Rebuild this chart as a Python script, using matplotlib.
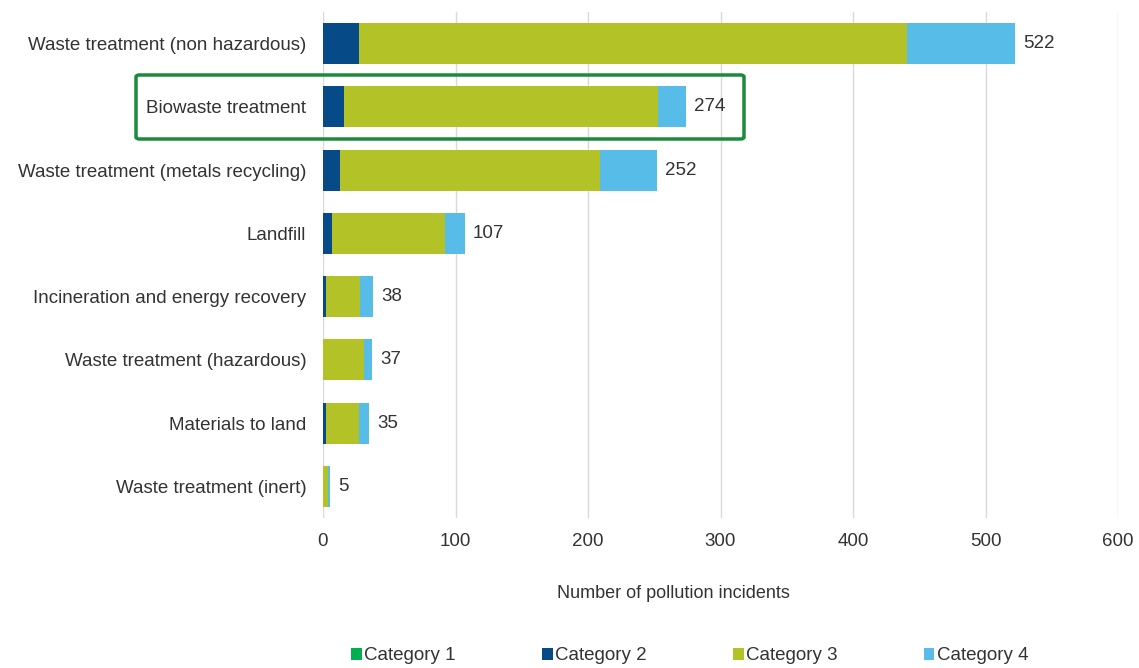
import matplotlib.pyplot as plt
from matplotlib.patches import FancyBboxPatch
import numpy as np

plt.rcParams['font.family'] = ['Liberation Sans', 'DejaVu Sans']

# dados
setores = ["Waste treatment (non hazardous)", "Biowaste treatment",
           "Waste treatment (metals recycling)", "Landfill",
           "Incineration and energy recovery", "Waste treatment (hazardous)",
           "Materials to land", "Waste treatment (inert)"]
cat1 = [0, 0, 0, 0, 0, 0, 0, 0]
cat2 = [27, 16, 13, 7, 2, 0, 2, 0]
cat3 = [414, 237, 196, 85, 26, 31, 25, 4]
cat4 = [81, 21, 43, 15, 10, 6, 8, 1]
totais = [522, 274, 252, 107, 38, 37, 35, 5]
categorias = ["Category 1", "Category 2", "Category 3", "Category 4"]
cores = ["#00b050", "#064a87", "#b3c227", "#57bde8"]

cor_texto = '#333333'
fig = plt.figure(figsize=(11.39, 6.68), dpi=100)
ax = fig.add_axes([323 / 1139, 1 - 518 / 668, (1118 - 323) / 1139, (518 - 12) / 668])

y = np.arange(len(setores))
esquerda = np.zeros(len(setores))
for serie, nome, cor in zip([cat1, cat2, cat3, cat4], categorias, cores):
    ax.barh(y, serie, left=esquerda, height=0.65, color=cor, label=nome, zorder=3)
    esquerda += np.array(serie)

# rótulos de total
for yi, tot, fim in zip(y, totais, esquerda):
    ax.annotate(str(tot), (fim, yi), xytext=(6, 0), textcoords='offset points',
                va='center', ha='left', fontsize=13.5, color=cor_texto)

ax.set_xlim(0, 600)
ax.set_ylim(len(setores) - 0.5, -0.5)
ax.set_xticks(range(0, 601, 100))
ax.set_yticks(y)
ax.set_yticklabels(setores)
ax.tick_params(axis='both', length=0, labelsize=13.5, labelcolor=cor_texto)
ax.tick_params(axis='x', pad=11)
ax.tick_params(axis='y', pad=12)
for s in ax.spines.values():
    s.set_visible(False)
ax.grid(axis='x', color='#d9d9d9', linewidth=1, zorder=0)

fig.text(673 / 1139, 1 - 593 / 668, "Number of pollution incidents",
         ha='center', va='center', fontsize=13, color=cor_texto)

# legenda
ax.legend(loc='center', bbox_to_anchor=(690 / 1139, 1 - 656 / 668), bbox_transform=fig.transFigure,
          ncol=4, frameon=False, fontsize=13.5, handlelength=0.55, handleheight=0.55,
          handletextpad=0.15, columnspacing=4.6, labelcolor=cor_texto)

# destaque em verde
caixa = FancyBboxPatch((136 / 1139, 1 - 139 / 668), (744 - 136) / 1139, (139 - 75) / 668,
                       boxstyle='round,pad=0,rounding_size=0.003', transform=fig.transFigure,
                       fill=False, edgecolor='#1b8a3a', linewidth=2.5, zorder=10)
fig.patches.append(caixa)

fig.savefig("out.png", dpi=100)
